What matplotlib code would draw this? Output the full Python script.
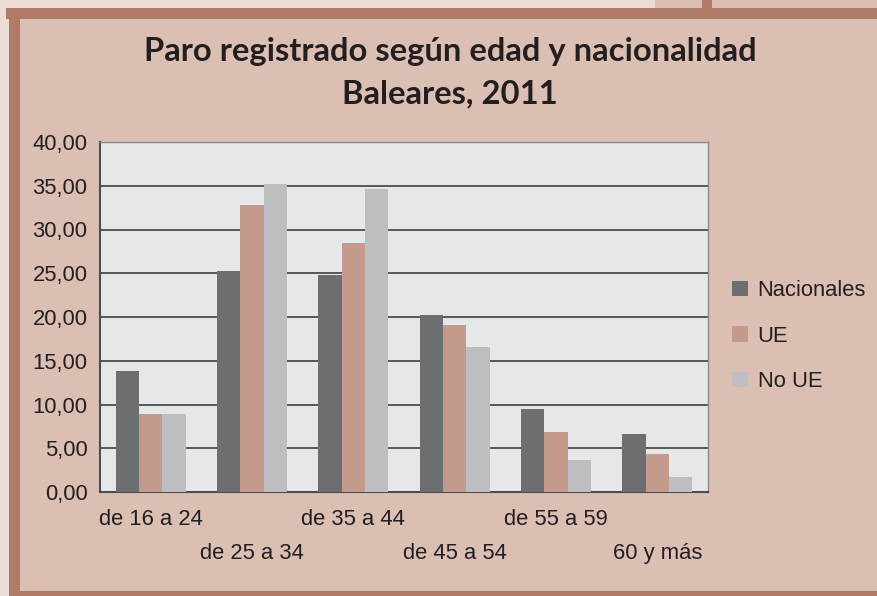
import matplotlib

matplotlib.use("Agg")

import matplotlib.pyplot as plt
import numpy as np
from matplotlib.patches import Rectangle

# Data
categories = ["de 16 a 24", "de 25 a 34", "de 35 a 44", "de 45 a 54", "de 55 a 59", "60 y más"]
series_names = ["Nacionales", "UE", "No UE"]
nacionales = [13.8, 25.3, 24.8, 20.2, 9.5, 6.6]
ue = [8.9, 32.8, 28.5, 19.1, 6.9, 4.3]
no_ue = [8.9, 35.2, 34.6, 16.6, 3.7, 1.7]
y_ticks = [0, 5, 10, 15, 20, 25, 30, 35, 40]

W, H = 877, 596
BG = "#dbbfb3"
BROWN = "#b07a68"
LIGHT = "#ebdcd4"
colors = ["#6d6e70", "#c49a8c", "#bcbec1"]

plt.rcParams["font.family"] = ["Liberation Sans", "DejaVu Sans"]

fig = plt.figure(figsize=(W / 100, H / 100), dpi=100, facecolor=BG)


def px_rect(x0, y0, x1, y1, color):
    """Rectangle given in image pixel coordinates (origin top-left)."""
    fig.patches.append(
        Rectangle(
            (x0 / W, 1 - y1 / H), (x1 - x0) / W, (y1 - y0) / H,
            transform=fig.transFigure, facecolor=color, edgecolor="none", zorder=0,
        )
    )


# frame decoration
px_rect(0, 0, 655, 8, LIGHT)
px_rect(0, 0, 9, H, LIGHT)
px_rect(702, 0, 712, 9, BROWN)
px_rect(6, 8, W, 19, BROWN)
px_rect(9, 8, 20, H, BROWN)
px_rect(9, 591, W, H, BROWN)

# plot area: x 100..708, y 142..492
ax = fig.add_axes([100 / W, 1 - 492 / H, 608 / W, 350 / H])
ax.set_facecolor("#e6e7e9")

x = np.arange(len(categories))
bw = 0.23
for i, (vals, name) in enumerate(zip([nacionales, ue, no_ue], series_names)):
    ax.bar(x + (i - 1) * bw, vals, width=bw, color=colors[i], label=name, zorder=3)

ax.set_xlim(-0.5, len(categories) - 0.5)
ax.set_ylim(0, 40)
ax.set_yticks(y_ticks)
ax.set_yticklabels(["{:.2f}".format(v).replace(".", ",") for v in y_ticks], fontsize=15.8, color="#231f20")
ax.yaxis.grid(True, color="#4d4d4f", linewidth=1.3, zorder=1)
ax.tick_params(axis="y", length=0, pad=9)

ax.set_xticks(x)
ax.set_xticklabels(categories, fontsize=15.8, color="#231f20")
ax.tick_params(axis="x", length=0)
for i, t in enumerate(ax.xaxis.get_major_ticks()):
    t.set_pad(12 if i % 2 == 0 else 37)

for s in ["top", "right"]:
    ax.spines[s].set_color("#8a8a8c")
    ax.spines[s].set_linewidth(1.0)
for s in ["left", "bottom"]:
    ax.spines[s].set_color("#4d4d4f")
    ax.spines[s].set_linewidth(1.5)

title_font = dict(fontsize=23.6, fontweight="bold", family=["Lato", "DejaVu Sans"], color="#231f20")
fig.text(450 / W, 1 - 51 / H, "Paro registrado según edad y nacionalidad", ha="center", va="center", **title_font)
fig.text(450 / W, 1 - 94 / H, "Baleares, 2011", ha="center", va="center", **title_font)

leg = fig.legend(loc="upper left", bbox_to_anchor=(732 / W, 1 - 280 / H), frameon=False,
                 fontsize=15.8, handlelength=0.72, handleheight=0.72, handletextpad=0.45,
                 labelspacing=1.12, borderaxespad=0, borderpad=0)
for t in leg.get_texts():
    t.set_color("#231f20")

fig.savefig("out.png", dpi=100, facecolor=BG)
